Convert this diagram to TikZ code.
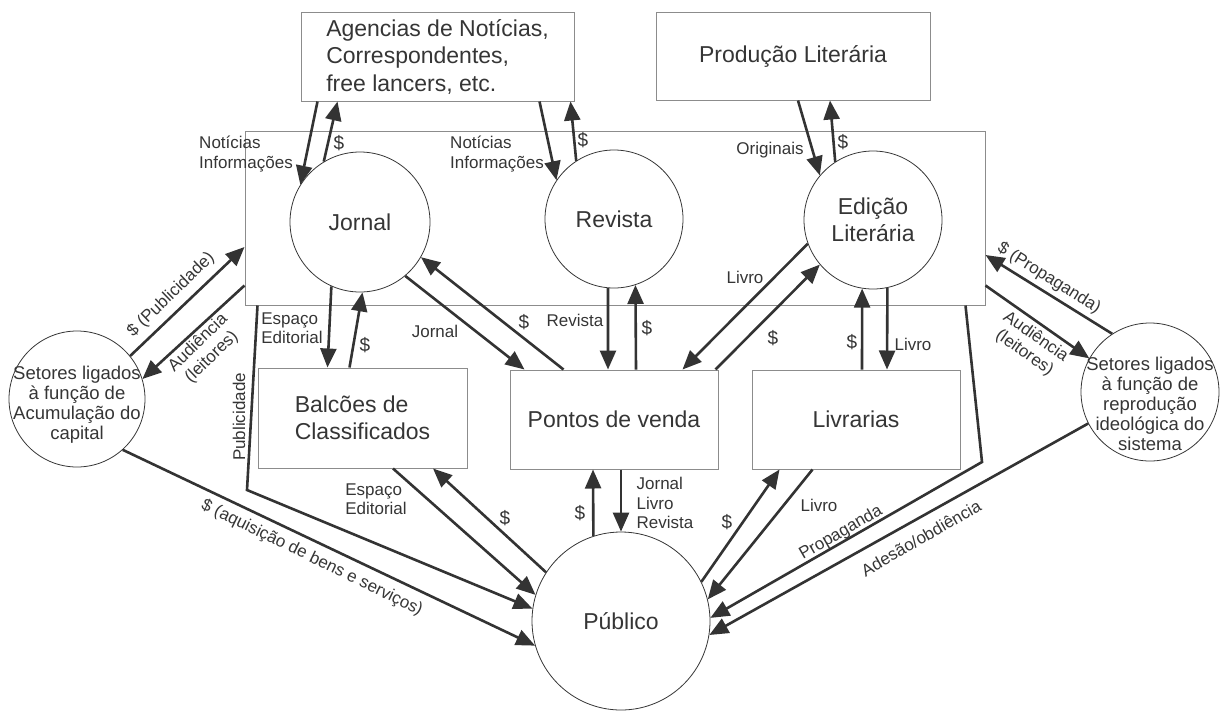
\documentclass[tikz,border=0pt]{standalone}
\usepackage{fontspec}
\setmainfont{Liberation Sans}
\usetikzlibrary{arrows.meta}

\definecolor{linha}{HTML}{333333}
\definecolor{texto}{HTML}{353535}
\definecolor{borda}{HTML}{8C8C8C}

\begin{document}
\begin{tikzpicture}[x=1pt,y=-1pt,
    caixa/.style={draw=borda, line width=1pt, rectangle, inner sep=0pt, text=texto,
      font=\fontsize{23}{27.5}\selectfont},
    roda/.style={draw=texto, line width=0.8pt, circle, inner sep=0pt, text=texto, align=center,
      font=\fontsize{23}{27.5}\selectfont},
    setores/.style={font=\fontsize{18.5}{20}\selectfont, text=texto, align=center},
    seta/.style={draw=linha, line width=2.6pt, -{Triangle[length=19pt,width=16pt]}},
    rot/.style={inner sep=0pt, text=texto, font=\fontsize{17}{19.5}\selectfont},
    din/.style={inner sep=0pt, text=texto, font=\fontsize{19}{20}\selectfont}]
       \useasboundingbox (0,0) rectangle (1220,710);

       \node(grande)[caixa, minimum width=740pt, minimum height=174pt] at (615,218) {};
       \node(agencias)[caixa, minimum width=273pt, minimum height=89pt, align=left] at (437.5,56.5)
           {Agencias de Notícias,\\Correspondentes,\\free lancers, etc.};
       \node(producao)[caixa, minimum width=274pt, minimum height=88pt] at (793,56) {Produção Literária};

       \node(jornal)[roda, minimum size=140pt] at (360,222) {Jornal};
       \node(revista)[roda, minimum size=138pt] at (614,219) {Revista};
       \node(edicao)[roda, minimum size=138pt] at (873,220) {Edição\\Literária};

       \node(balcoes)[caixa, minimum width=209pt, minimum height=100pt, align=left] at (362.5,418)
           {Balcões de\\Classificados};
       \node(pontos)[caixa, minimum width=208pt, minimum height=99pt] at (614,419.5) {Pontos de venda};
       \node(livrarias)[caixa, minimum width=208pt, minimum height=99pt] at (856,419.5) {Livrarias};

       \node(publico)[roda, minimum size=178pt] at (621,621) {Público};
       \node(acumulacao)[roda, minimum size=136pt,
           label={[setores, yshift=-6pt]center:Setores ligados\\à função de\\Acumulação do\\capital}] at (77,399) {};
       \node(ideologia)[roda, minimum size=138pt,
           label={[setores, yshift=-12pt]center:Setores ligados\\à função de\\reprodução\\ideológica do\\sistema}] at (1150,392) {};

       \coordinate(cantopub) at (247,490);
       \coordinate(cantoprop) at (982,462);

       % fornecedores
       \draw[seta] ([xshift=17pt]agencias.south west) -- (jornal.148);
       \draw[seta] (jornal.121) -- ([xshift=37pt]agencias.south west);
       \draw[seta] ([xshift=-35pt]agencias.south east) -- (revista.146);
       \draw[seta] (revista.123) -- ([xshift=-4pt]agencias.south east);
       \draw[seta] ([xshift=5pt]producao.south) -- (edicao.140);
       \draw[seta] (edicao.123) -- ([xshift=37pt]producao.south);

       % distribuicao
       \draw[seta] (jornal.246) -- ([xshift=-35pt]balcoes.north);
       \draw[seta] ([xshift=-13pt]balcoes.north) -- (jornal.272);
       \draw[seta] (jornal.310) -- ([xshift=15pt]pontos.north west);
       \draw[seta] ([xshift=54pt]pontos.north west) -- (jornal.330);
       \draw[seta] (revista.265) -- ([xshift=-6pt]pontos.north);
       \draw[seta] ([xshift=22pt]pontos.north) -- (revista.288);
       \draw[seta] (edicao.200) -- ([xshift=-36pt]pontos.north east);
       \draw[seta] ([xshift=-3pt]pontos.north east) -- (edicao.220);
       \draw[seta] ([xshift=6pt]livrarias.north) -- (edicao.261);
       \draw[seta] (edicao.282) -- ([xshift=31pt]livrarias.north);

       % setores
       \draw[seta] ([yshift=20pt]grande.south west) -- (acumulacao.17);
       \draw[seta] (acumulacao.39) -- ([yshift=-29pt]grande.west);
       \draw[seta] ([yshift=20pt]grande.south east) -- (ideologia.151);
       \draw[seta] (ideologia.123) -- ([yshift=-37pt]grande.east);

       % publico
       \draw[seta] (acumulacao.312) -- (publico.196);
       \draw[seta] ([xshift=13pt]grande.south west) -- (cantopub) -- (publico.172);
       \draw[seta] ([xshift=30.5pt]balcoes.south) -- (publico.163);
       \draw[seta] (publico.147) -- ([xshift=70.5pt]balcoes.south);
       \draw[seta] (publico.108) -- ([xshift=-21pt]pontos.south);
       \draw[seta] ([xshift=7pt]pontos.south) -- (publico.90);
       \draw[seta] (publico.26) -- ([xshift=28pt]livrarias.south west);
       \draw[seta] ([xshift=61pt]livrarias.south west) -- (publico.14);
       \draw[seta] ([xshift=-20pt]grande.south east) -- (cantoprop) -- (publico.2);
       \draw[seta] (ideologia.207) -- (publico.351);

       \node(Nnot1)[rot, align=left] at (246,154) {Notícias\\Informações};
       \node(Ndin1)[din] at (339,143) {\$};
       \node(Nnot2)[rot, align=left] at (497,154) {Notícias\\Informações};
       \node(Ndin2)[din] at (583,140) {\$};
       \node(Norig)[rot] at (770,150) {Originais};
       \node(Ndin3)[din] at (843,142) {\$};

       \node(Nesp1)[rot, align=left] at (292,328) {Espaço\\Editorial};
       \node(Ndin4)[din] at (365,345) {\$};
       \node(Njor)[rot] at (435,331) {Jornal};
       \node(Ndin5)[din] at (524,322) {\$};
       \node(Nrev)[rot] at (575,320) {Revista};
       \node(Ndin6)[din] at (647,328) {\$};
       \node(Nliv1)[rot] at (745,277) {Livro};
       \node(Ndin7)[din] at (773,338) {\$};
       \node(Ndin8)[din] at (852,342) {\$};
       \node(Nliv2)[rot] at (913,344) {Livro};

       \node(Npubdin)[rot, rotate=44] at (171,295) {\$ (Publicidade)};
       \node(Naud1)[rot, rotate=44, align=center] at (205,350) {Audiência\\(leitores)};
       \node(Npropdin)[rot, rotate=-32] at (1049,278) {\$ (Propaganda)};
       \node(Naud2)[rot, rotate=-35, align=center] at (1030,345) {Audiência\\(leitores)};
       \node(Npub)[rot, rotate=90] at (239,417) {Publicidade};

       \node(Naquis)[rot, rotate=-26] at (312,558) {\$ (aquisição de bens e serviços)};
       \node(Nesp2)[rot, align=left] at (376,499) {Espaço\\Editorial};
       \node(Ndin9)[din] at (505,518) {\$};
       \node(Ndin10)[din] at (580,513) {\$};
       \node(Njlr)[rot, align=left] at (665,503) {Jornal\\Livro\\Revista};
       \node(Ndin11)[din] at (727,522) {\$};
       \node(Nliv3)[rot] at (819,505) {Livro};
       \node(Nprop)[rot, rotate=30] at (841,533) {Propaganda};
       \node(Nades)[rot, rotate=30] at (921,538) {Adesão/obdiência};
      \end{tikzpicture}
\end{document}
